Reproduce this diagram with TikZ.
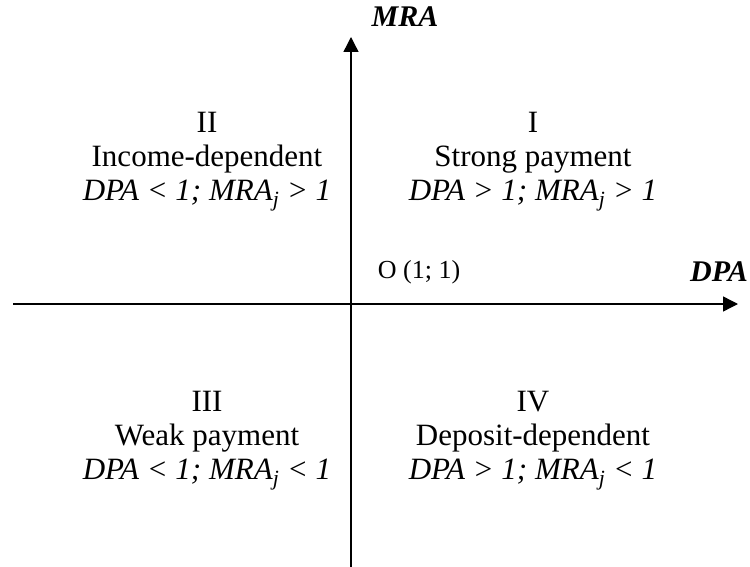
\documentclass[tikz,border=0pt]{standalone}
\usepackage{fontspec}
\setmainfont{Liberation Serif}
\usetikzlibrary{arrows.meta}

\begin{document}
\begin{tikzpicture}[x=1pt,y=-1pt,
    quad/.style={align=center,font=\fontsize{31}{34}\selectfont,inner sep=0pt},
    axislabel/.style={font=\fontsize{30}{32}\selectfont\bfseries\itshape,inner sep=0pt},
    axis/.style={line width=1.4pt,-{Triangle[length=15pt,width=15pt]}}]
\useasboundingbox (0,0) rectangle (750,567);
\coordinate (xs) at (13,304);
\coordinate (xe) at (738,304);
\coordinate (ys) at (351,567);
\coordinate (ye) at (351,37);
\draw[axis] (xs) -- (xe);
\draw[axis] (ys) -- (ye);
\node[axislabel] (mra) at (405,17) {MRA};
\node[axislabel] (dpa) at (719,272) {DPA};
\node[font=\fontsize{26}{30}\selectfont,inner sep=0pt] (o) at (419,272) {O (1; 1)};
\node[quad] (q1) at (533,162) {I\\Strong payment\\\textit{DPA > 1; MRA\textsubscript{j} > 1}};
\node[quad] (q2) at (207,162) {II\\Income-dependent\\\textit{DPA < 1; MRA\textsubscript{j} > 1}};
\node[quad] (q3) at (207,441) {III\\Weak payment\\\textit{DPA < 1; MRA\textsubscript{j} < 1}};
\node[quad] (q4) at (533,441) {IV\\Deposit-dependent\\\textit{DPA > 1; MRA\textsubscript{j} < 1}};
\end{tikzpicture}
\end{document}
